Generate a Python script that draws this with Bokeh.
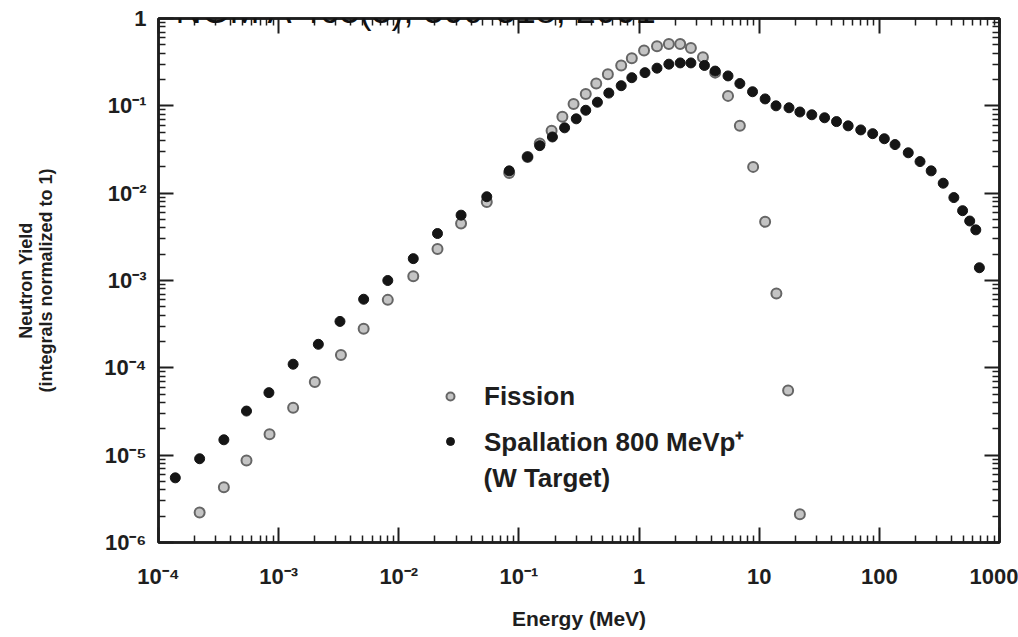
from bokeh.plotting import figure
from bokeh.models import FixedTicker, LogAxis, Legend, LegendItem, Label
from bokeh.embed import file_html
from bokeh.resources import INLINE

try:
    from bokeh.models import HTMLLabel as OuterLabel
except Exception:
    OuterLabel = Label

# ---- data ----
spallation_energy = [1.38e-4, 2.2e-4, 3.5e-4, 5.4e-4, 8.3e-4, 1.32e-3, 2.14e-3, 3.24e-3, 5.1e-3, 8.1e-3,
                     1.32e-2, 2.1e-2, 3.3e-2, 5.4e-2, 8.3e-2, 0.118, 0.149, 0.19, 0.24, 0.30,
                     0.36, 0.45, 0.56, 0.71, 0.87, 1.12, 1.41, 1.77, 2.2, 2.7,
                     3.5, 4.3, 5.5, 6.9, 8.8, 11.2, 13.8, 17.7, 21.8, 27.4,
                     35, 44, 55, 70, 88, 110, 135, 174, 218, 270,
                     340, 417, 493, 565, 635, 680]
spallation_yield = [5.5e-6, 9.1e-6, 1.5e-5, 3.2e-5, 5.2e-5, 1.1e-4, 1.86e-4, 3.4e-4, 6.1e-4, 1.0e-3,
                    1.78e-3, 3.45e-3, 5.6e-3, 9.1e-3, 1.8e-2, 2.6e-2, 3.5e-2, 4.4e-2, 5.6e-2, 7.1e-2,
                    8.9e-2, 0.11, 0.14, 0.17, 0.21, 0.24, 0.27, 0.30, 0.31, 0.31,
                    0.29, 0.25, 0.22, 0.18, 0.145, 0.12, 0.10, 0.095, 0.085, 0.079,
                    0.073, 0.066, 0.059, 0.053, 0.048, 0.042, 0.036, 0.029, 0.023, 0.018,
                    0.013, 0.0089, 0.0063, 0.0048, 0.0038, 0.0014]
fission_energy = [2.2e-4, 3.5e-4, 5.4e-4, 8.4e-4, 1.32e-3, 2.0e-3, 3.3e-3, 5.1e-3, 8.1e-3, 1.32e-2,
                  2.1e-2, 3.3e-2, 5.4e-2, 8.3e-2, 0.118, 0.149, 0.187, 0.23, 0.285, 0.36,
                  0.44, 0.55, 0.71, 0.87, 1.1, 1.41, 1.77, 2.2, 2.7, 3.4,
                  4.3, 5.5, 6.9, 8.9, 11.2, 13.9, 17.4, 21.8]
fission_yield = [2.2e-6, 4.3e-6, 8.7e-6, 1.74e-5, 3.5e-5, 6.9e-5, 1.4e-4, 2.8e-4, 6.0e-4, 1.12e-3,
                 2.3e-3, 4.5e-3, 7.9e-3, 0.017, 0.026, 0.037, 0.052, 0.075, 0.105, 0.137,
                 0.18, 0.23, 0.29, 0.35, 0.43, 0.48, 0.51, 0.51, 0.46, 0.36,
                 0.24, 0.13, 0.059, 0.020, 0.0047, 7.1e-4, 5.5e-5, 2.1e-6]

x_ticks = [1e-4, 1e-3, 1e-2, 1e-1, 1, 10, 100, 1000]
x_tick_labels = ["10⁻⁴", "10⁻³", "10⁻²", "10⁻¹", "1", "10", "100", "1000"]
y_ticks = [1e-6, 1e-5, 1e-4, 1e-3, 1e-2, 1e-1, 1]
y_tick_labels = ["10⁻⁶", "10⁻⁵", "10⁻⁴", "10⁻³", "10⁻²", "10⁻¹", "1"]

series_names = ["Fission", "Spallation 800 MeVp⁺"]
x_title = "Energy (MeV)"
y_title = "Neutron Yield\n(integrals normalized to 1)"

FONT = "Liberation Sans"
INK = "#1e1e1e"
W, H = 1018, 637

p = figure(width=W, height=H, x_axis_type="log", y_axis_type="log",
           x_range=(1e-4, 1000), y_range=(1e-6, 1),
           output_backend="svg", toolbar_location=None,
           min_border_left=158, min_border_right=19, min_border_top=18, min_border_bottom=95)
p.xgrid.visible = False
p.ygrid.visible = False
p.background_fill_color = "white"
p.border_fill_color = "white"
p.outline_line_color = INK
p.outline_line_width = 2.5

x_minor = [m * 10.0 ** k for k in range(-4, 3) for m in range(2, 10)]
y_minor = [m * 10.0 ** k for k in range(-6, 0) for m in range(2, 10)]
xt = FixedTicker(ticks=x_ticks, minor_ticks=x_minor)
yt = FixedTicker(ticks=y_ticks, minor_ticks=y_minor)


def style_axis(ax):
    ax.major_tick_in = 15
    ax.major_tick_out = 0
    ax.minor_tick_in = 7
    ax.minor_tick_out = 0
    ax.axis_line_color = INK
    ax.axis_line_width = 2.5
    ax.major_tick_line_color = INK
    ax.major_tick_line_width = 2
    ax.minor_tick_line_color = INK
    ax.minor_tick_line_width = 1.5
    ax.major_label_text_font = FONT
    ax.major_label_text_font_style = "bold"
    ax.major_label_text_font_size = "22px"
    ax.major_label_text_color = INK
    ax.axis_label_text_font = FONT
    ax.axis_label_text_font_style = "bold"
    ax.axis_label_text_color = INK


xa = p.xaxis[0]
xa.ticker = xt
xa.major_label_overrides = {t: s for t, s in zip(x_ticks, x_tick_labels)}
xa.axis_label = x_title
style_axis(xa)
xa.major_label_standoff = 21
xa.axis_label_standoff = 15
xa.axis_label_text_font_size = "21px"

ya = p.yaxis[0]
ya.ticker = yt
ya.major_label_overrides = {t: s for t, s in zip(y_ticks, y_tick_labels)}
ya.axis_label = y_title
style_axis(ya)
ya.major_label_standoff = 12
ya.axis_label_standoff = 45
ya.axis_label_text_font_size = "18px"
ya.axis_label_text_line_height = 1.0

top = LogAxis(ticker=xt)
style_axis(top)
top.major_label_text_font_size = "2px"
top.major_label_text_alpha = 0
top.major_label_standoff = 0
p.add_layout(top, "above")

right = LogAxis(ticker=yt)
style_axis(right)
right.major_label_text_font_size = "2px"
right.major_label_text_alpha = 0
right.major_label_standoff = 0
p.add_layout(right, "right")

r_f = p.scatter(fission_energy, fission_yield, marker="circle", size=10,
                fill_color="#c4c4c4", line_color="#666666", line_width=2)
r_s = p.scatter(spallation_energy, spallation_yield, marker="circle", size=10,
                fill_color="#151515", line_color="#151515", line_width=1)

legend = Legend(items=[LegendItem(label=series_names[0], renderers=[r_f]),
                       LegendItem(label=series_names[1], renderers=[r_s])],
                location=(282, 83), padding=0, margin=0, spacing=9,
                glyph_width=20, glyph_height=36, label_height=36, label_standoff=24,
                label_text_font=FONT, label_text_font_style="bold",
                label_text_font_size="26px", label_text_color=INK,
                border_line_alpha=0, background_fill_alpha=0)
p.add_layout(legend, "center")

p.add_layout(Label(x=0.0507, y=5.41e-6, text="(W Target)", text_font=FONT,
                   text_font_style="bold", text_font_size="26px", text_color=INK,
                   text_baseline="middle"))

# texts of the slide around the chart (outside the frame), in canvas pixels
p.add_layout(OuterLabel(x=97, y=66, x_units="canvas", y_units="canvas", text="um",
                        text_font=FONT, text_font_style="bold", text_font_size="62px",
                        text_color="#035b8a", text_align="right", text_baseline="alphabetic"))
p.add_layout(OuterLabel(x=44, y=628, x_units="canvas", y_units="canvas", text="2",
                        text_font=FONT, text_font_size="14px", text_color="#333333",
                        text_align="center", text_baseline="middle"))
p.add_layout(Label(x=175, y=10, x_units="canvas", y_units="canvas",
                   text="NGM A 463(3), 309-318, 2001", text_font=FONT,
                   text_font_size="36px", text_color="#111111",
                   text_align="left", text_baseline="alphabetic"))

open("out.html", "w").write(file_html(p, INLINE))
